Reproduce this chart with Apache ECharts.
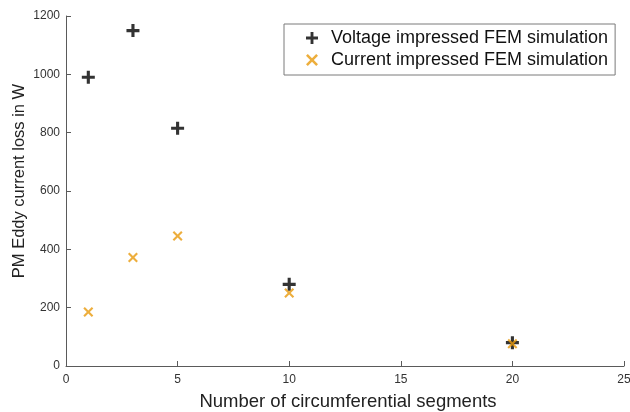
<!DOCTYPE html>
<html>
<head>
<meta charset="utf-8">
<script src="https://cdn.jsdelivr.net/npm/echarts@6/dist/echarts.min.js"></script>
<style>html,body{margin:0;padding:0;background:#fff;}#c{width:630px;height:412px;}</style>
</head>
<body>
<div id="c"></div>
<script>
const segments = [1, 3, 5, 10, 20];
const voltageLoss = [990, 1150, 815, 280, 80];
const currentLoss = [185, 372, 446, 250, 76];
const seriesNames = ['Voltage impressed FEM simulation', 'Current impressed FEM simulation'];
const xTicks = [0, 5, 10, 15, 20, 25];
const yTicks = [0, 200, 400, 600, 800, 1000, 1200];

const plusPath = 'path://M3.8,0H6.2V3.8H10V6.2H6.2V10H3.8V6.2H0V3.8H3.8Z';
const crossPath = 'path://M1.5,0L5,3.5L8.5,0L10,1.5L6.5,5L10,8.5L8.5,10L5,6.5L1.5,10L0,8.5L3.5,5L0,1.5Z';

const font = 'Liberation Sans, Arial, sans-serif';
const chart = echarts.init(document.getElementById('c'), null, {renderer: 'canvas'});
const axisColor = '#5a5a5a';
chart.setOption({
  animation: false,
  backgroundColor: '#fff',
  grid: {left: 66, right: 6, top: 16, bottom: 46, containLabel: false, outerBoundsMode: 'none'},
  legend: {
    orient: 'vertical',
    left: 284, top: 24,
    padding: [5, 7, 6, 22],
    itemGap: 4,
    itemWidth: 12, itemHeight: 12,
    borderColor: '#7a7a7a', borderWidth: 1,
    backgroundColor: '#fff',
    textStyle: {fontFamily: font, fontSize: 18, color: '#111', padding: [0, 0, 0, 8]},
    data: seriesNames
  },
  xAxis: {
    type: 'value', min: 0, max: 25, interval: 5,
    name: 'Number of circumferential segments', nameLocation: 'middle', nameGap: 26,
    nameMoveOverlap: false,
    nameTextStyle: {fontFamily: font, fontSize: 18.5, color: '#222', padding: [0, 0, 0, 6]},
    axisLine: {show: true, lineStyle: {color: axisColor, width: 1}},
    axisTick: {show: true, inside: true, length: 5, lineStyle: {color: axisColor}},
    axisLabel: {fontFamily: font, fontSize: 12, color: '#333', margin: 8,
      formatter: v => xTicks.includes(v) ? String(v) : ''},
    splitLine: {show: false}
  },
  yAxis: {
    type: 'value', min: 0, max: 1200, interval: 200,
    name: 'PM Eddy current loss in W', nameLocation: 'middle', nameGap: 38,
    nameMoveOverlap: false,
    nameTextStyle: {fontFamily: font, fontSize: 16.5, color: '#222', padding: [0, 0, 0, 20]},
    axisLine: {show: true, lineStyle: {color: axisColor, width: 1}},
    axisTick: {show: true, inside: true, length: 5, lineStyle: {color: axisColor}},
    axisLabel: {fontFamily: font, fontSize: 12, color: '#333', margin: 6,
      formatter: v => yTicks.includes(v) ? String(v) : ''},
    splitLine: {show: false}
  },
  series: [
    {
      name: seriesNames[0], type: 'scatter',
      symbol: plusPath, symbolSize: 13,
      itemStyle: {color: '#000'},
      data: segments.map((x, i) => [x, voltageLoss[i]]),
      z: 3
    },
    {
      name: seriesNames[1], type: 'scatter',
      symbol: crossPath, symbolSize: 10,
      itemStyle: {color: '#E99A0C'},
      data: segments.map((x, i) => [x, currentLoss[i]]),
      z: 4
    }
  ]
});
</script>
</body>
</html>
